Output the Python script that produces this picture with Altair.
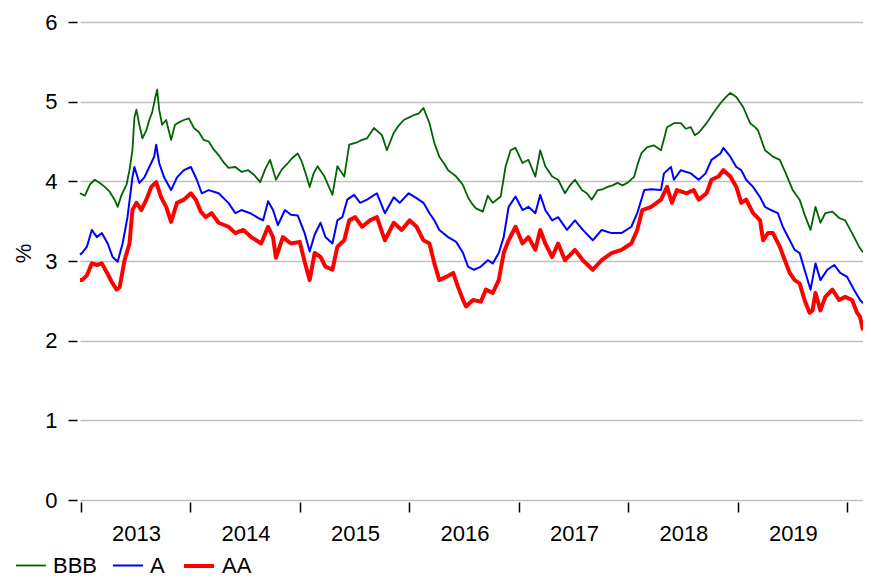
import altair as alt
import pandas as pd

FONT = "Liberation Sans"

series_names = ["BBB", "A", "AA"]
series_colors = ["#006400", "#0000ff", "#ff0000"]
series_widths = [1.8, 2.0, 4.0]
y_ticks = [0, 1, 2, 3, 4, 5, 6]
year_ticks = [2013, 2014, 2015, 2016, 2017, 2018, 2019, 2020]

bbb_t = [2012.991, 2013.036, 2013.081, 2013.127, 2013.172, 2013.217, 2013.262, 2013.307, 2013.335, 2013.371,
         2013.416, 2013.443, 2013.470, 2013.488, 2013.506, 2013.533, 2013.561, 2013.597, 2013.624, 2013.651,
         2013.678, 2013.696, 2013.714, 2013.741, 2013.778, 2013.805, 2013.823, 2013.859, 2013.895, 2013.940,
         2013.986, 2014.031, 2014.076, 2014.121, 2014.166, 2014.212, 2014.257, 2014.302, 2014.347, 2014.410,
         2014.465, 2014.528, 2014.582, 2014.637, 2014.682, 2014.727, 2014.781, 2014.835, 2014.890, 2014.935,
         2014.980, 2015.016, 2015.052, 2015.089, 2015.125, 2015.161, 2015.224, 2015.297, 2015.342, 2015.405,
         2015.450, 2015.523, 2015.568, 2015.613, 2015.676, 2015.749, 2015.794, 2015.857, 2015.902, 2015.948,
         2015.993, 2016.038, 2016.083, 2016.128, 2016.183, 2016.228, 2016.273, 2016.318, 2016.354, 2016.391,
         2016.427, 2016.463, 2016.490, 2016.535, 2016.571, 2016.608, 2016.671, 2016.716, 2016.761, 2016.834,
         2016.879, 2016.924, 2016.969, 2017.033, 2017.087, 2017.150, 2017.195, 2017.241, 2017.304, 2017.358,
         2017.421, 2017.467, 2017.512, 2017.575, 2017.620, 2017.665, 2017.720, 2017.765, 2017.810, 2017.855,
         2017.901, 2017.946, 2017.991, 2018.054, 2018.081, 2018.118, 2018.172, 2018.235, 2018.298, 2018.353,
         2018.416, 2018.479, 2018.524, 2018.570, 2018.606, 2018.642, 2018.714, 2018.778, 2018.841, 2018.886,
         2018.931, 2018.986, 2019.049, 2019.112, 2019.157, 2019.184, 2019.248, 2019.320, 2019.383, 2019.438,
         2019.501, 2019.564, 2019.618, 2019.664, 2019.709, 2019.754, 2019.799, 2019.863, 2019.926, 2019.980,
         2020.043, 2020.107, 2020.143]
bbb_v = [3.85, 3.82, 3.96, 4.02, 3.98, 3.93, 3.87, 3.77, 3.68, 3.83,
         3.96, 4.14, 4.39, 4.80, 4.90, 4.71, 4.54, 4.64, 4.77, 4.87,
         5.05, 5.15, 4.90, 4.71, 4.77, 4.62, 4.52, 4.71, 4.74, 4.77,
         4.79, 4.67, 4.62, 4.52, 4.50, 4.40, 4.33, 4.24, 4.17, 4.18,
         4.12, 4.14, 4.08, 3.99, 4.15, 4.27, 4.02, 4.15, 4.23, 4.30,
         4.35, 4.25, 4.10, 3.93, 4.10, 4.19, 4.06, 3.83, 4.19, 4.06,
         4.46, 4.49, 4.52, 4.54, 4.67, 4.58, 4.39, 4.61, 4.70, 4.77,
         4.80, 4.83, 4.85, 4.92, 4.73, 4.48, 4.31, 4.22, 4.14, 4.10,
         4.06, 4.00, 3.95, 3.80, 3.72, 3.66, 3.62, 3.82, 3.73, 3.81,
         4.19, 4.39, 4.42, 4.23, 4.27, 4.06, 4.39, 4.19, 4.06, 4.02,
         3.85, 3.95, 4.02, 3.89, 3.85, 3.77, 3.89, 3.90, 3.93, 3.95,
         3.98, 3.95, 3.98, 4.06, 4.20, 4.35, 4.43, 4.45, 4.39, 4.68,
         4.73, 4.73, 4.66, 4.68, 4.58, 4.61, 4.73, 4.86, 4.98, 5.05,
         5.11, 5.06, 4.93, 4.73, 4.68, 4.64, 4.39, 4.31, 4.27, 4.10,
         3.89, 3.77, 3.55, 3.39, 3.68, 3.48, 3.60, 3.62, 3.54, 3.51,
         3.35, 3.18, 3.11]

a_t = [2012.991, 2013.009, 2013.054, 2013.099, 2013.145, 2013.190, 2013.244, 2013.289, 2013.335, 2013.380,
       2013.425, 2013.470, 2013.488, 2013.533, 2013.579, 2013.624, 2013.669, 2013.687, 2013.714, 2013.759,
       2013.823, 2013.877, 2013.940, 2014.004, 2014.058, 2014.103, 2014.166, 2014.257, 2014.347, 2014.410,
       2014.465, 2014.546, 2014.618, 2014.664, 2014.709, 2014.754, 2014.799, 2014.863, 2014.917, 2014.980,
       2015.043, 2015.089, 2015.134, 2015.188, 2015.233, 2015.297, 2015.342, 2015.387, 2015.432, 2015.495,
       2015.550, 2015.613, 2015.703, 2015.776, 2015.857, 2015.911, 2015.993, 2016.065, 2016.128, 2016.183,
       2016.228, 2016.273, 2016.354, 2016.427, 2016.490, 2016.535, 2016.590, 2016.653, 2016.716, 2016.761,
       2016.816, 2016.861, 2016.906, 2016.969, 2017.033, 2017.087, 2017.150, 2017.195, 2017.241, 2017.304,
       2017.358, 2017.439, 2017.512, 2017.584, 2017.675, 2017.756, 2017.846, 2017.937, 2018.027, 2018.081,
       2018.145, 2018.208, 2018.298, 2018.325, 2018.389, 2018.416, 2018.479, 2018.570, 2018.642, 2018.705,
       2018.759, 2018.841, 2018.868, 2018.931, 2018.986, 2019.031, 2019.076, 2019.139, 2019.203, 2019.248,
       2019.302, 2019.365, 2019.410, 2019.474, 2019.519, 2019.564, 2019.618, 2019.664, 2019.709, 2019.754,
       2019.817, 2019.881, 2019.935, 2019.998, 2020.061, 2020.116, 2020.143]
a_v = [3.08, 3.10, 3.18, 3.39, 3.30, 3.35, 3.22, 3.05, 2.99, 3.22,
       3.55, 4.05, 4.18, 3.98, 4.05, 4.18, 4.31, 4.46, 4.23, 4.05,
       3.89, 4.05, 4.14, 4.18, 4.02, 3.85, 3.89, 3.85, 3.73, 3.60,
       3.64, 3.60, 3.54, 3.51, 3.75, 3.64, 3.45, 3.64, 3.58, 3.57,
       3.35, 3.12, 3.33, 3.48, 3.30, 3.22, 3.51, 3.55, 3.77, 3.83,
       3.73, 3.77, 3.85, 3.60, 3.80, 3.73, 3.85, 3.79, 3.73, 3.60,
       3.51, 3.39, 3.30, 3.24, 3.10, 2.93, 2.89, 2.93, 3.01, 2.97,
       3.10, 3.30, 3.68, 3.81, 3.64, 3.68, 3.60, 3.83, 3.64, 3.51,
       3.55, 3.39, 3.51, 3.39, 3.26, 3.39, 3.35, 3.35, 3.43, 3.60,
       3.89, 3.90, 3.89, 4.10, 4.18, 4.02, 4.14, 4.10, 4.02, 4.10,
       4.27, 4.35, 4.42, 4.31, 4.18, 4.14, 4.02, 3.93, 3.80, 3.68,
       3.64, 3.60, 3.43, 3.26, 3.14, 3.10, 2.85, 2.64, 2.97, 2.76,
       2.89, 2.95, 2.85, 2.80, 2.64, 2.51, 2.47]

aa_t = [2012.991, 2013.009, 2013.054, 2013.099, 2013.145, 2013.190, 2013.235, 2013.280, 2013.326, 2013.353,
        2013.398, 2013.443, 2013.470, 2013.506, 2013.552, 2013.597, 2013.642, 2013.687, 2013.732, 2013.778,
        2013.823, 2013.877, 2013.940, 2014.004, 2014.049, 2014.094, 2014.139, 2014.193, 2014.257, 2014.347,
        2014.410, 2014.483, 2014.555, 2014.646, 2014.709, 2014.754, 2014.781, 2014.844, 2014.917, 2014.998,
        2015.043, 2015.089, 2015.134, 2015.188, 2015.233, 2015.297, 2015.342, 2015.405, 2015.450, 2015.504,
        2015.568, 2015.640, 2015.703, 2015.776, 2015.857, 2015.929, 2016.002, 2016.065, 2016.128, 2016.183,
        2016.228, 2016.273, 2016.336, 2016.400, 2016.445, 2016.490, 2016.517, 2016.580, 2016.653, 2016.698,
        2016.761, 2016.816, 2016.861, 2016.906, 2016.969, 2017.033, 2017.087, 2017.150, 2017.195, 2017.241,
        2017.304, 2017.358, 2017.421, 2017.512, 2017.584, 2017.675, 2017.756, 2017.846, 2017.937, 2018.027,
        2018.081, 2018.127, 2018.208, 2018.298, 2018.353, 2018.398, 2018.443, 2018.533, 2018.597, 2018.642,
        2018.714, 2018.759, 2018.823, 2018.868, 2018.931, 2018.986, 2019.031, 2019.076, 2019.139, 2019.203,
        2019.230, 2019.275, 2019.320, 2019.383, 2019.429, 2019.474, 2019.519, 2019.564, 2019.609, 2019.655,
        2019.682, 2019.709, 2019.754, 2019.799, 2019.863, 2019.926, 2019.980, 2020.043, 2020.089, 2020.116,
        2020.143]
aa_v = [2.76, 2.76, 2.82, 2.97, 2.95, 2.97, 2.86, 2.74, 2.64, 2.67,
        3.01, 3.22, 3.64, 3.73, 3.64, 3.77, 3.93, 3.99, 3.80, 3.68,
        3.49, 3.73, 3.77, 3.85, 3.77, 3.62, 3.55, 3.60, 3.48, 3.43,
        3.35, 3.39, 3.30, 3.22, 3.43, 3.30, 3.04, 3.30, 3.22, 3.24,
        2.99, 2.76, 3.10, 3.05, 2.93, 2.89, 3.18, 3.26, 3.51, 3.55,
        3.43, 3.51, 3.55, 3.26, 3.48, 3.39, 3.51, 3.43, 3.26, 3.22,
        2.97, 2.76, 2.80, 2.85, 2.67, 2.51, 2.43, 2.51, 2.49, 2.64,
        2.60, 2.76, 3.10, 3.26, 3.43, 3.22, 3.30, 3.14, 3.39, 3.22,
        3.05, 3.22, 3.01, 3.14, 3.01, 2.89, 3.01, 3.10, 3.14, 3.22,
        3.39, 3.64, 3.68, 3.77, 3.93, 3.73, 3.89, 3.85, 3.89, 3.77,
        3.85, 4.02, 4.06, 4.14, 4.06, 3.93, 3.73, 3.77, 3.60, 3.51,
        3.26, 3.35, 3.35, 3.18, 3.01, 2.85, 2.76, 2.72, 2.51, 2.35,
        2.38, 2.60, 2.38, 2.55, 2.64, 2.51, 2.55, 2.51, 2.35, 2.30,
        2.13]

frames = []
for name, ts, vs in [("BBB", bbb_t, bbb_v), ("A", a_t, a_v), ("AA", aa_t, aa_v)]:
    frames.append(pd.DataFrame({"t": ts, "v": vs, "series": name}))
df = pd.concat(frames, ignore_index=True)

legend_cfg = dict(
    orient="none", legendX=-65, legendY=527, direction="horizontal",
    title=None, symbolType="stroke", symbolSize=900,
    labelFont=FONT, labelFontSize=22, labelColor="black",
    labelOffset=6, columnPadding=11,
)

chart = alt.Chart(df).mark_line(strokeJoin="round").encode(
    x=alt.X("t:Q",
            scale=alt.Scale(domain=[2012.991, 2020.143], nice=False, zero=False),
            axis=alt.Axis(values=year_ticks, title=None, grid=False, domain=False,
                          tickColor="black", tickSize=10, tickWidth=1.5, offset=2,
                          labelExpr="datum.value < 2020 ? '' + datum.value : ''",
                          labelOffset=55, labelPadding=11, labelFont=FONT, labelFontSize=22,
                          labelColor="black", labelOverlap=False, labelBound=False,
                          labelFlush=False)),
    y=alt.Y("v:Q",
            scale=alt.Scale(domain=[0, 6], nice=False, zero=True),
            axis=alt.Axis(values=y_ticks, title="%", grid=True, gridColor="#c0c0c0",
                          gridWidth=1.5, domain=False, tickColor="black", tickSize=9,
                          tickWidth=1.5, offset=3, labelPadding=11, labelFont=FONT,
                          labelFontSize=22, labelColor="black", titleFont=FONT,
                          titleFontSize=22, titleFontWeight="normal", titleColor="black",
                          titleX=-42, titleY=231)),
    color=alt.Color("series:N", sort=series_names,
                    scale=alt.Scale(domain=series_names, range=series_colors),
                    legend=alt.Legend(**legend_cfg)),
    strokeWidth=alt.StrokeWidth("series:N", sort=series_names,
                                scale=alt.Scale(type="ordinal", domain=series_names,
                                                range=series_widths),
                                legend=alt.Legend(**legend_cfg)),
).properties(
    width=783, height=478,
    autosize=alt.AutoSizeParams(type="none"),
    padding={"left": 72, "top": 14, "right": 0, "bottom": 78},
).configure_view(stroke=None)

chart.save("out.html", embed_options={"renderer": "svg", "actions": False})
